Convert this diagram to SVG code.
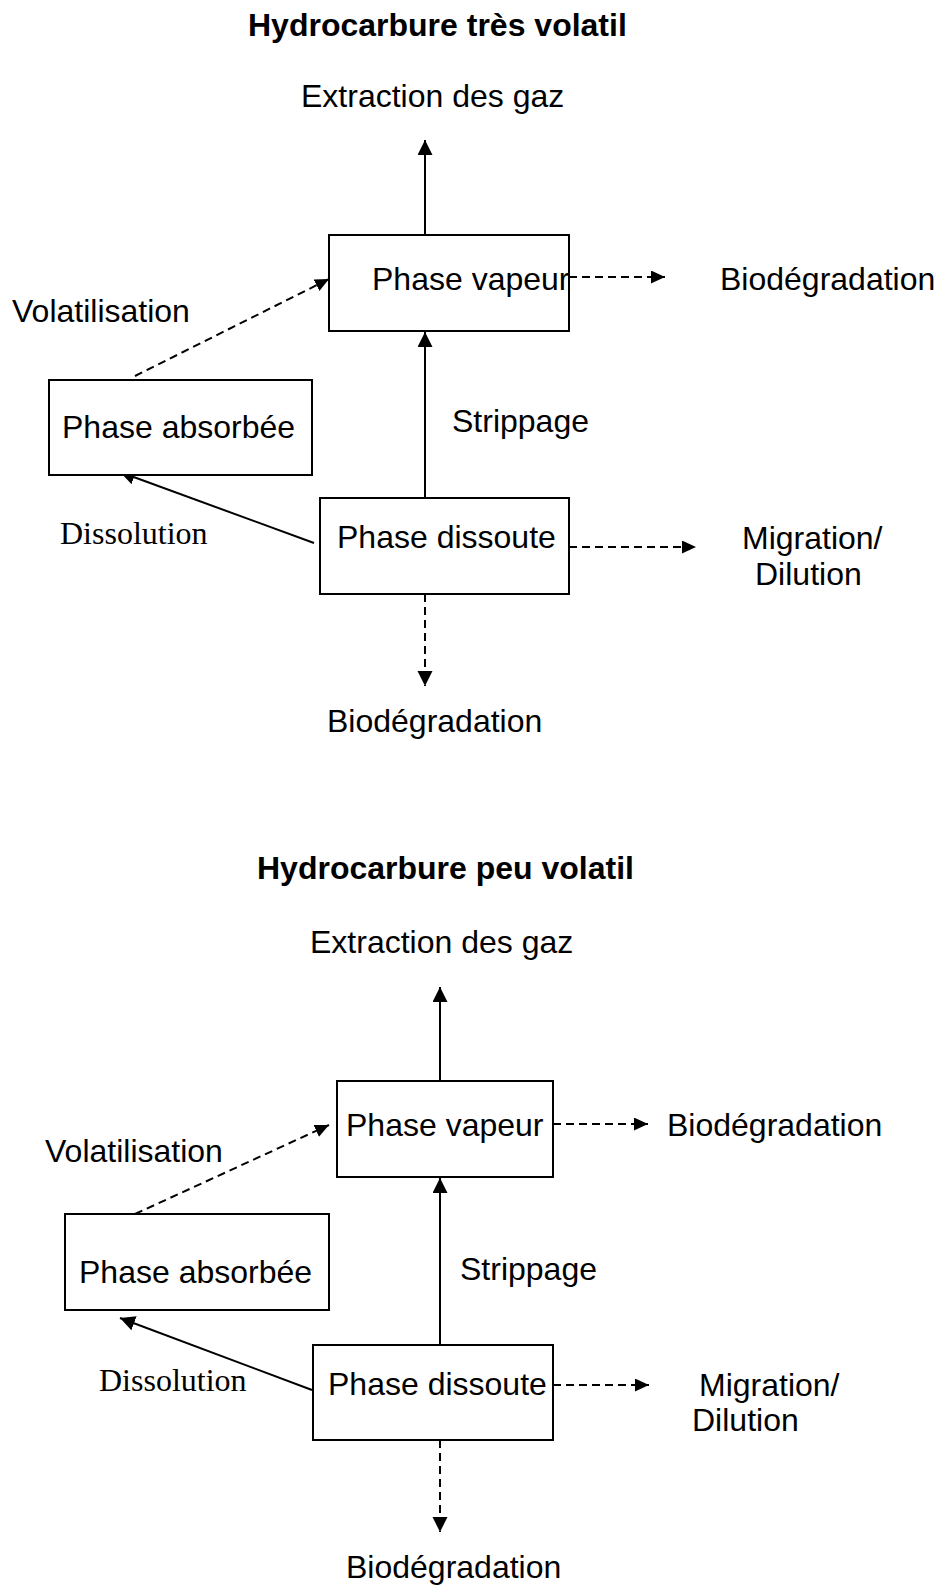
<svg xmlns="http://www.w3.org/2000/svg" width="939" height="1587" viewBox="0 0 939 1587">
<style>
.t{font-family:"Liberation Sans",Arial,sans-serif;font-size:32px;fill:#000}
.b{font-weight:bold}
.s{font-family:"Liberation Serif","Times New Roman",serif;font-size:32px;fill:#000}
.box{fill:#fff;stroke:#000;stroke-width:2}
.ln{stroke:#000;stroke-width:2;fill:none}
.d{stroke-dasharray:8 5}
</style>
<defs>
<marker id="ah" markerUnits="userSpaceOnUse" markerWidth="16" markerHeight="16" refX="15" refY="7.5" orient="auto" viewBox="0 0 16 16">
<path d="M0,0 L15,7.5 L0,15 z" fill="#000"/>
</marker>
<marker id="ahs" markerUnits="userSpaceOnUse" markerWidth="16" markerHeight="14" refX="14" refY="6.5" orient="auto" viewBox="0 0 16 14">
<path d="M0,0 L14,6.5 L0,13 z" fill="#000"/>
</marker>
</defs>
<rect width="939" height="1587" fill="#fff"/>

<g id="connectors">
<line class="ln" x1="425" y1="235" x2="425" y2="140" marker-end="url(#ah)"/>
<line class="ln" x1="425" y1="498" x2="425" y2="332" marker-end="url(#ah)"/>
<line class="ln d" x1="569" y1="277" x2="665" y2="277" marker-end="url(#ahs)"/>
<line class="ln d" x1="135" y1="376" x2="329" y2="279" marker-end="url(#ahs)"/>
<line class="ln" x1="314" y1="543" x2="120" y2="472" marker-end="url(#ah)"/>
<line class="ln d" x1="569" y1="547" x2="696" y2="547" marker-end="url(#ahs)"/>
<line class="ln d" x1="425" y1="594" x2="425" y2="686" marker-end="url(#ah)"/>
<line class="ln" x1="440" y1="1081" x2="440" y2="987" marker-end="url(#ah)"/>
<line class="ln" x1="440" y1="1345" x2="440" y2="1178" marker-end="url(#ah)"/>
<line class="ln d" x1="553" y1="1124" x2="648" y2="1124" marker-end="url(#ahs)"/>
<line class="ln d" x1="135" y1="1214" x2="329" y2="1125" marker-end="url(#ahs)"/>
<line class="ln" x1="312" y1="1390" x2="120" y2="1318" marker-end="url(#ah)"/>
<line class="ln d" x1="553" y1="1385" x2="649" y2="1385" marker-end="url(#ahs)"/>
<line class="ln d" x1="440" y1="1440" x2="440" y2="1532" marker-end="url(#ah)"/>
</g>

<g id="top-title"><text class="t b" x="248" y="36">Hydrocarbure très volatil</text></g>
<g id="top-extraction"><text class="t" x="301" y="107">Extraction des gaz</text></g>
<g id="top-vapeur">
<rect class="box" x="329" y="235" width="240" height="96"/>
<text class="t" x="372" y="290">Phase vapeur</text>
</g>
<g id="top-bio1"><text class="t" x="720" y="290">Biodégradation</text></g>
<g id="top-volat"><text class="t" x="12" y="322">Volatilisation</text></g>
<g id="top-absorbee">
<rect class="box" x="49" y="380" width="263" height="95"/>
<text class="t" x="62" y="438">Phase absorbée</text>
</g>
<g id="top-strip"><text class="t" x="452" y="432">Strippage</text></g>
<g id="top-dissoute">
<rect class="box" x="320" y="498" width="249" height="96"/>
<text class="t" x="337" y="548">Phase dissoute</text>
</g>
<g id="top-dissol"><text class="s" x="60" y="544">Dissolution</text></g>
<g id="top-migr"><text class="t" x="742" y="549">Migration/</text><text class="t" x="755" y="585">Dilution</text></g>
<g id="top-bio2"><text class="t" x="327" y="732">Biodégradation</text></g>

<g id="bot-title"><text class="t b" x="257" y="879">Hydrocarbure peu volatil</text></g>
<g id="bot-extraction"><text class="t" x="310" y="953">Extraction des gaz</text></g>
<g id="bot-vapeur">
<rect class="box" x="337" y="1081" width="216" height="96"/>
<text class="t" x="346" y="1136">Phase vapeur</text>
</g>
<g id="bot-bio1"><text class="t" x="667" y="1136">Biodégradation</text></g>
<g id="bot-volat"><text class="t" x="45" y="1162">Volatilisation</text></g>
<g id="bot-absorbee">
<rect class="box" x="65" y="1214" width="264" height="96"/>
<text class="t" x="79" y="1283">Phase absorbée</text>
</g>
<g id="bot-strip"><text class="t" x="460" y="1280">Strippage</text></g>
<g id="bot-dissoute">
<rect class="box" x="313" y="1345" width="240" height="95"/>
<text class="t" x="328" y="1395">Phase dissoute</text>
</g>
<g id="bot-dissol"><text class="s" x="99" y="1391">Dissolution</text></g>
<g id="bot-migr"><text class="t" x="699" y="1396">Migration/</text><text class="t" x="692" y="1431">Dilution</text></g>
<g id="bot-bio2"><text class="t" x="346" y="1578">Biodégradation</text></g>
</svg>
